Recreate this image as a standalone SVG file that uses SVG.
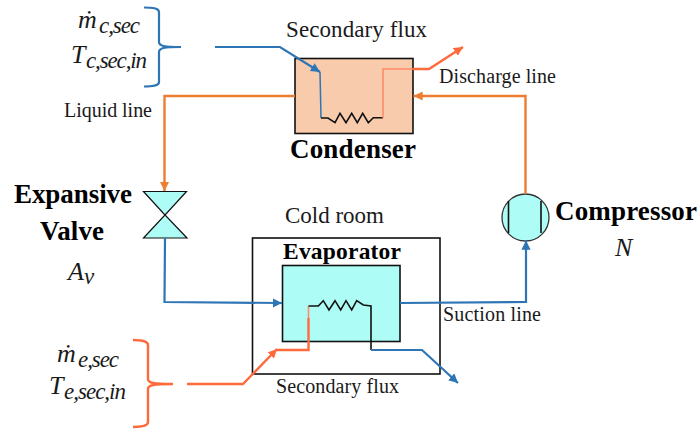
<svg xmlns="http://www.w3.org/2000/svg" width="700" height="429" viewBox="0 0 700 429">
<style>
text{font-family:"Liberation Serif",serif;fill:#1a1a1a}
.l{font-size:23px}
.s{font-size:20px}
.b{font-size:27px;font-weight:bold;fill:#000}
.e{font-size:23.5px;font-weight:bold;fill:#000}
.m{font-style:italic;font-size:26px}
.u{font-style:italic;font-size:23px}
.n{fill:none;stroke-linejoin:miter}
.bl{stroke:#2e75b6;stroke-width:2.2}
.or{stroke:#ed7d31;stroke-width:2.4}
.rd{stroke:#ff6a3d;stroke-width:2.4}
.k{stroke:#111;stroke-width:1.6}
.box{stroke:#111;stroke-width:1.6}
</style>
<defs>
<marker id="ab" viewBox="0 0 10 10" refX="10" refY="5" markerWidth="4.200" markerHeight="4.200" orient="auto"><path d="M0 0L10 5L0 10Z" fill="#2e75b6"/></marker>
<marker id="ao" viewBox="0 0 10 10" refX="10" refY="5" markerWidth="3.800" markerHeight="3.800" orient="auto"><path d="M0 0L10 5L0 10Z" fill="#ed7d31"/></marker>
<marker id="ar" viewBox="0 0 10 10" refX="10" refY="5" markerWidth="3.800" markerHeight="3.800" orient="auto"><path d="M0 0L10 5L0 10Z" fill="#ff6a3d"/></marker>
</defs>
<g id="cold-room"><rect x="252.500" y="238" width="187.500" height="136" fill="none" class="box"/><text class="l" x="285" y="223" textLength="99">Cold room</text></g>
<g id="condenser"><rect x="295" y="58.500" width="118" height="75" fill="#f8cbad" class="box"/><text class="b" x="290" y="158" textLength="126">Condenser</text></g>
<g id="evaporator"><rect x="282.500" y="265.500" width="117.500" height="76" fill="#adfcf6" class="box"/><text class="e" x="283" y="259" textLength="118">Evaporator</text></g>
<g id="expansive-valve"><path d="M143.500 191.500H186.500L165 215L187 238H143.500L165 215Z" fill="#adfcf6" stroke="#111" stroke-width="1.200"/><text class="b" x="14" y="203" textLength="118">Expansive</text><text class="b" x="40" y="240" textLength="64">Valve</text><text class="m" x="68" y="280">A</text><text class="u" x="84" y="284">v</text></g>
<g id="compressor"><circle cx="525.500" cy="217.500" r="23.500" fill="#adfcf6" stroke="#333" stroke-width="1.300"/><path d="M508.500 201V233M541 201V233" class="n k"/><text class="b" x="555" y="220" textLength="142">Compressor</text><text class="m" x="615" y="256">N</text></g>
<g id="connectors">
<path class="n bl" d="M215 47H280L320 72" marker-end="url(#ab)"/>
<path class="n" d="M320 72L321 118" stroke="#2e75b6" stroke-width="1.500"/>
<path class="n k" d="M321 118H328L335 122.700L340 113.300L346 122.700L351.700 113.300L357.300 122.700L362.700 113.300L368.300 122.700L373.300 117.700H383"/>
<path class="n" d="M383 118V69H413" stroke="#ff8a6a" stroke-width="1.600"/>
<path class="n rd" d="M413 69H429L463 47" marker-end="url(#ar)"/>
<path class="n or" d="M295 96H164.500V191" marker-end="url(#ao)"/>
<path class="n or" d="M525.500 194V96H413.500" marker-end="url(#ao)"/>
<path class="n bl" d="M165 238L164.500 302L282 303" marker-end="url(#ab)"/>
<path class="n bl" d="M400 303L526 302V240.500" marker-end="url(#ab)"/>
<path class="n rd" d="M187 384H243L277 349" marker-end="url(#ar)"/>
<path class="n rd" d="M308.500 318V350H276"/>
<path class="n" d="M308.500 318V306" stroke="#ff8a6a" stroke-width="1.600"/>
<path class="n k" d="M308.500 306H318.300L323.300 300.700L329 310L335 300.700L340.700 310L346 300.700L351.700 310L356.700 300.700L363.300 305L371 306V350"/>
<path class="n bl" d="M371 350H422L458 383" marker-end="url(#ab)"/>
<path class="n bl" d="M144 7.500C152 7.500 159 8 159 12V42C159 46 164 47 181 47C164 47 159 48 159 52V82C159 86 152 86.500 144 86.500"/>
<path class="n rd" d="M133 340C141 340 148 341 148 345V379C148 383 153 384 173 384C153 384 148 385 148 389V422C148 426 141 427 133 427"/>
</g>
<g id="labels">
<text class="l" x="286" y="37" textLength="141">Secondary flux</text>
<text class="s" x="439" y="83" textLength="117">Discharge line</text>
<text class="s" x="64" y="117" textLength="88">Liquid line</text>
<text class="s" x="443" y="321" textLength="98">Suction line</text>
<text class="s" x="276" y="393" textLength="123">Secondary flux</text>
<text class="m" x="78" y="28">ṁ</text><text class="u" x="99" y="33" textLength="41">c,sec</text>
<text class="m" x="71" y="63">T</text><text class="u" x="86" y="68" textLength="61">c,sec,in</text>
<text class="m" x="57" y="362">ṁ</text><text class="u" x="78" y="367" textLength="41">e,sec</text>
<text class="m" x="49" y="394">T</text><text class="u" x="64" y="399" textLength="62">e,sec,in</text>
</g>
</svg>
